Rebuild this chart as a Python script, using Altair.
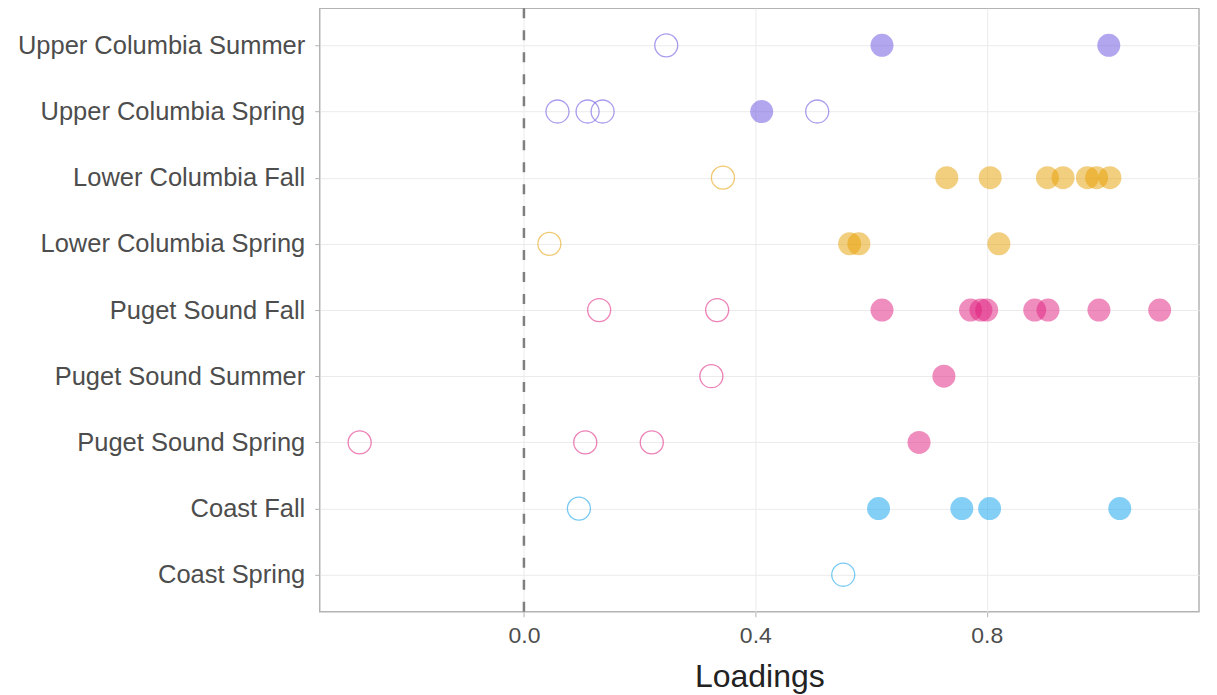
import altair as alt
import pandas as pd

categories = ["Upper Columbia Summer", "Upper Columbia Spring", "Lower Columbia Fall",
              "Lower Columbia Spring", "Puget Sound Fall", "Puget Sound Summer",
              "Puget Sound Spring", "Coast Fall", "Coast Spring"]
regions = ["Upper Columbia", "Lower Columbia", "Puget Sound", "Coast"]
region_colors = ["#654DDF", "#E59D00", "#DF1D7D", "#099FEB"]

groups = (["Upper Columbia Summer"] * 3 +
          ["Upper Columbia Spring"] * 5 +
          ["Lower Columbia Fall"] * 8 +
          ["Lower Columbia Spring"] * 4 +
          ["Puget Sound Fall"] * 10 +
          ["Puget Sound Summer"] * 2 +
          ["Puget Sound Spring"] * 4 +
          ["Coast Fall"] * 5 +
          ["Coast Spring"] * 1)
loadings = [0.246, 0.619, 1.011,
            0.058, 0.110, 0.136, 0.411, 0.507,
            0.344, 0.731, 0.806, 0.905, 0.932, 0.974, 0.990, 1.013,
            0.044, 0.563, 0.579, 0.821,
            0.130, 0.334, 0.619, 0.772, 0.790, 0.800, 0.883, 0.906, 0.994, 1.099,
            0.324, 0.726,
            -0.284, 0.106, 0.221, 0.683,
            0.095, 0.613, 0.757, 0.805, 1.030,
            0.552]
significant = [False, True, True,
               False, False, False, True, False,
               False, True, True, True, True, True, True, True,
               False, True, True, True,
               False, False, True, True, True, True, True, True, True, True,
               False, True,
               False, False, False, True,
               False, True, True, True, True,
               False]

def region_of(g):
    for r in regions:
        if g.startswith(r):
            return r
    return g

df = pd.DataFrame({
    "group": groups,
    "loading": loadings,
    "sig": significant,
})
df["region"] = df["group"].map(region_of)

x_enc = alt.X("loading:Q", title="Loadings",
              scale=alt.Scale(domain=[-0.353, 1.167], nice=False, zero=False),
              axis=alt.Axis(values=[0.0, 0.4, 0.8], format=".1f"))
y_enc = alt.Y("group:N", title=None, sort=categories,
              scale=alt.Scale(type="point", padding=0.56))
color_enc = alt.Color("region:N", legend=None,
                      scale=alt.Scale(domain=regions, range=region_colors))

filled = alt.Chart(df).transform_filter("datum.sig").mark_circle(
    size=530, opacity=0.5, strokeWidth=0
).encode(x=x_enc, y=y_enc, color=color_enc)

hollow = alt.Chart(df).transform_filter("!datum.sig").mark_point(
    shape="circle", size=530, filled=False, strokeWidth=1.3, opacity=0.55
).encode(x=x_enc, y=y_enc, color=color_enc)

zero_line = alt.Chart(pd.DataFrame({"x": [0.0]})).mark_rule(
    color="#7F7F7F", strokeWidth=2.5, strokeDash=[10, 12]
).encode(x="x:Q")

chart = alt.layer(zero_line, hollow, filled).properties(
    width=880, height=604,
    autosize="none",
    padding={"left": 312, "top": 0, "right": 10, "bottom": 84},
).configure_view(
    stroke="#B3B3B3", strokeWidth=1.5
).configure_axis(
    grid=True, gridColor="#EBEBEB", gridWidth=1,
    domain=False,
    tickColor="#B3B3B3", tickSize=5,
    labelFont="Liberation Sans", labelColor="#4D4D4D",
    titleFont="Liberation Sans", titleColor="#222222",
    titleFontWeight="normal",
).configure_axisY(
    labelPadding=10, labelFontSize=25.5, labelLimit=0
).configure_axisX(
    labelPadding=8, labelFontSize=23, titleFontSize=32, titlePadding=14
)

chart.save("out.html", embed_options={"renderer": "svg", "actions": False})
